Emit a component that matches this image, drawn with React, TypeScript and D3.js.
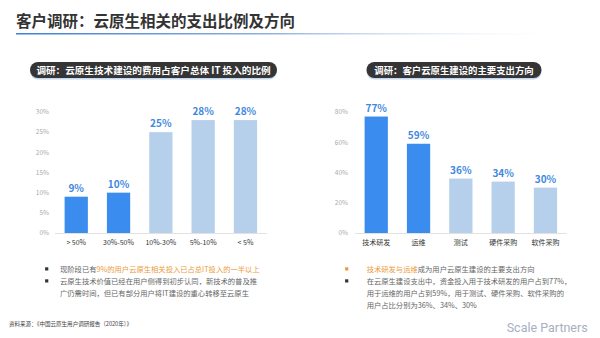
import React from "react";
import * as d3 from "d3";

const leftCats = ["> 50%", "30%-50%", "10%-30%", "5%-10%", "< 5%"];
const leftVals = [9, 10, 25, 28, 28];
const leftHi = [true, true, false, false, false];
const leftTicks = [0, 5, 10, 15, 20, 25, 30];

const rightCats = ["技术研发", "运维", "测试", "硬件采购", "软件采购"];
const rightVals = [77, 59, 36, 34, 30];
const rightHi = [true, true, false, false, false];
const rightTicks = [0, 20, 40, 60, 80];

const CJK = "'Noto Sans CJK SC', 'Noto Sans', sans-serif";
const DARK = "#3b8cef";
const LIGHT = "#b6d0ec";
const LABEL = "#3f88e0";
const ORANGE = "#ec9a3a";
const GRAY = "#666";

function BarChart({ x0, cats, vals, hi, ticks, max, labelX }: any) {
  const x = d3.scaleBand<string>().domain(cats).range([x0, x0 + 211.7]).paddingInner(0.45).paddingOuter(0.227);
  const y = d3.scaleLinear().domain([0, max]).range([233, 112]);
  return (
    <g>
      {ticks.map((t: number) => (
        <text key={t} x={labelX} y={y(t) + 2.3} textAnchor="end" fontSize={6.5} fill="#aaa" fontFamily={CJK}>
          {t}%
        </text>
      ))}
      <line x1={x0} x2={x0 + 211.7} y1={y(0) + 0.5} y2={y(0) + 0.5} stroke="#e2e2e2" strokeWidth={1} />
      {cats.map((c: string, i: number) => (
        <g key={c}>
          <rect x={x(c)} y={y(vals[i])} width={x.bandwidth()} height={y(0) - y(vals[i])} fill={hi[i] ? DARK : LIGHT} />
          <text x={(x(c) as number) + x.bandwidth() / 2} y={y(vals[i]) - 5} textAnchor="middle" fontSize={10} fontWeight="bold" fill={LABEL} fontFamily={CJK}>
            {vals[i]}%
          </text>
          <text x={(x(c) as number) + x.bandwidth() / 2} y={244.5} textAnchor="middle" fontSize={7} fill="#333" fontFamily={CJK}>
            {c}
          </text>
        </g>
      ))}
    </g>
  );
}

function Pill({ x, w, text, fs }: any) {
  return (
    <g>
      <rect x={x} y={63.5} width={w} height={16} rx={8} fill="#a9c6ea" opacity={0.7} />
      <rect x={x} y={62} width={w} height={16} rx={8} fill="#353535" />
      <text x={x + w / 2} y={73.5} textAnchor="middle" fontSize={fs} fontWeight="bold" fill="#fff" fontFamily={CJK}>
        {text}
      </text>
    </g>
  );
}

function Bullet({ x, y, color }: any) {
  return <rect x={x - 1.6} y={y - 4.2} width={3.2} height={3.2} fill={color} />;
}

export default function App() {
  return (
    <div style={{ position: "fixed", left: 0, top: 0 }}>
      <svg width={600} height={338} style={{ display: "block", background: "#fff" }}>
        <defs>
          <linearGradient id="ul" x1="0" x2="1" y1="0" y2="0">
            <stop offset="0" stopColor="#3f7fd6" />
            <stop offset="0.45" stopColor="#8fb0dc" />
            <stop offset="1" stopColor="#ffffff" stopOpacity={0} />
          </linearGradient>
        </defs>
        <text x={16} y={27} fontSize={15.5} fontWeight="bold" fill="#333" fontFamily={CJK}>
          客户调研：云原生相关的支出比例及方向
        </text>
        <rect x={16} y={33} width={562} height={1.5} fill="url(#ul)" />

        <Pill x={30} w={247} text="调研：云原生技术建设的费用占客户总体 IT 投入的比例" fs={9.6} />
        <Pill x={366.5} w={175} text="调研：客户云原生建设的主要支出方向" fs={9.4} />

        <BarChart x0={55} cats={leftCats} vals={leftVals} hi={leftHi} ticks={leftTicks} max={30} labelX={49} />
        <BarChart x0={355} cats={rightCats} vals={rightVals} hi={rightHi} ticks={rightTicks} max={80} labelX={348} />

        <g fontFamily={CJK} fontSize={7.3} fill={GRAY}>
          <Bullet x={46.7} y={271.5} color="#333" />
          <text x={60} y={271.5}>
            现阶段已有<tspan fill={ORANGE}>9%的用户云原生相关投入已占总IT投入的一半以上</tspan>
          </text>
          <Bullet x={46.7} y={283.5} color="#333" />
          <text x={60} y={283.5}>云原生技术价值已经在用户侧得到初步认同，新技术的普及推</text>
          <text x={60} y={295.5}>广仍需时间，但已有部分用户将IT建设的重心转移至云原生</text>

          <Bullet x={346.7} y={271.5} color={ORANGE} />
          <text x={366.7} y={271.5}>
            <tspan fill={ORANGE}>技术研发与运维</tspan>成为用户云原生建设的主要支出方向
          </text>
          <Bullet x={346.7} y={283.5} color="#333" />
          <text x={366.7} y={283.5}>在云原生建设支出中，资金投入用于技术研发的用户占到77%，</text>
          <text x={366.7} y={295.5}>用于运维的用户占到59%，用于测试、硬件采购、软件采购的</text>
          <text x={366.7} y={307.5}>用户占比分别为36%、34%、30%</text>
        </g>

        <text x={9} y={325.5} fontSize={5.8} fill="#444" fontFamily={CJK} textLength={123} lengthAdjust="spacingAndGlyphs">
          资料来源：《中国云原生用户调研报告（2020年）》
        </text>
        <text x={506.7} y={332} fontSize={13.5} fill="#a7b0c0" fontFamily="Roboto, 'Open Sans', sans-serif" textLength={81} lengthAdjust="spacingAndGlyphs">
          Scale Partners
        </text>
      </svg>
    </div>
  );
}
